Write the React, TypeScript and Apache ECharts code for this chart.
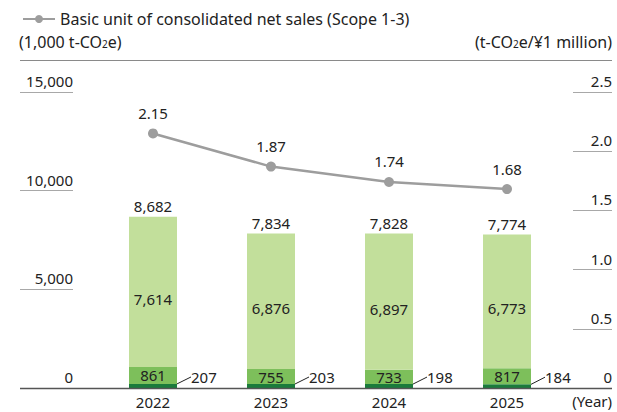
import React, { useEffect, useRef } from "react";
import * as echarts from "echarts";

const years = ["2022", "2023", "2024", "2025"];
const scope3Upstream = [7614, 6876, 6897, 6773]; // light green
const scope2 = [861, 755, 733, 817]; // medium green
const scope1 = [207, 203, 198, 184]; // dark green
const totals = [8682, 7834, 7828, 7774];
const intensity = [2.15, 1.87, 1.74, 1.68];
const leftTicks = [0, 5000, 10000, 15000];
const rightTicks = [0, 0.5, 1.0, 1.5, 2.0, 2.5];

const FONT = "Noto Sans";
const TXT = "#222222";
const fmt = (v: number) => v.toLocaleString("en-US");
const base = { fontSize: 15, color: TXT, fontFamily: FONT, fontWeight: "normal" as const };

export default function App() {
  const ref = useRef<HTMLDivElement>(null);
  useEffect(() => {
    const chart = echarts.init(ref.current!, undefined, { renderer: "svg" });
    const lineName = "Basic unit of consolidated net sales (Scope 1-3)";
    chart.setOption({
      animation: false,
      textStyle: { fontFamily: FONT, color: TXT, fontWeight: "normal" },
      legend: {
        data: [lineName],
        left: 17,
        top: 6,
        itemWidth: 32,
        itemHeight: 10,
        itemGap: 6,
        textStyle: { ...base, fontSize: 16 },
      },
      grid: { left: 94, right: 51, top: 92, bottom: 24 },
      xAxis: {
        type: "category",
        data: years,
        axisLine: { show: false },
        axisTick: { show: false },
        axisLabel: { ...base, margin: 6, lineHeight: 15 },
      },
      yAxis: [
        {
          type: "value",
          min: leftTicks[0],
          max: leftTicks[leftTicks.length - 1],
          interval: 5000,
          position: "left",
          offset: 21,
          splitLine: { show: false },
          axisLine: { show: false },
          axisTick: { show: true, length: 53, lineStyle: { color: "#a8a8a8", width: 1 } },
          axisLabel: {
            ...base,
            margin: 0,
            verticalAlign: "bottom",
            lineHeight: 22,
            formatter: (v: number) => fmt(v),
          },
        },
        {
          type: "value",
          min: rightTicks[0],
          max: rightTicks[rightTicks.length - 1],
          interval: 0.5,
          position: "right",
          offset: 7,
          splitLine: { show: false },
          axisLine: { show: false },
          axisTick: { show: true, length: 39, lineStyle: { color: "#a8a8a8", width: 1 } },
          axisLabel: {
            ...base,
            margin: 39,
            align: "right",
            verticalAlign: "bottom",
            lineHeight: 22,
            formatter: (v: number) => (v === 0 ? "0" : v.toFixed(1)),
          },
        },
      ],
      graphic: [
        {
          type: "line",
          shape: { x1: 20, y1: 60.5, x2: 612, y2: 60.5 },
          style: { stroke: "#8a8a8a", lineWidth: 1 },
        },
        {
          type: "line",
          shape: { x1: 20, y1: 388.5, x2: 612, y2: 388.5 },
          style: { stroke: "#555555", lineWidth: 1.5 },
          z: 10,
        },
        {
          type: "text",
          left: 19,
          top: 34,
          style: {
            text: "(1,000 t-CO{s|2}e)",
            rich: { s: { fontSize: 10, fontFamily: FONT, fill: TXT, padding: [4, 0, 0, 0] } },
            font: `16px "${FONT}"`,
            fill: TXT,
          },
        },
        {
          type: "text",
          right: 5,
          top: 34,
          style: {
            text: "(t-CO{s|2}e/¥1 million)",
            rich: { s: { fontSize: 10, fontFamily: FONT, fill: TXT, padding: [4, 0, 0, 0] } },
            font: `16px "${FONT}"`,
            fill: TXT,
          },
        },
        {
          type: "text",
          right: 5,
          top: 393,
          style: { text: "(Year)", font: `15px "${FONT}"`, fill: TXT },
        },
      ],
      series: [
        {
          name: "Scope 1",
          type: "bar",
          stack: "total",
          barWidth: 48,
          barGap: "-100%",
          data: scope1,
          itemStyle: { color: "#1a7b3b" },
          label: {
            ...base,
            show: true,
            position: "right",
            distance: 0,
            formatter: (p: any) => fmt(p.value),
          },
          labelLayout: { dx: 14, dy: -9 },
          labelLine: { show: true, lineStyle: { color: TXT, width: 1 } },
          z: 3,
        },
        {
          name: "Scope 2",
          type: "bar",
          stack: "total",
          data: scope2,
          itemStyle: { color: "#7dbf5b" },
          label: { ...base, show: true, position: "inside", formatter: (p: any) => fmt(p.value) },
          z: 3,
        },
        {
          name: "Scope 3",
          type: "bar",
          stack: "total",
          data: scope3Upstream,
          itemStyle: { color: "#c2df9b" },
          label: {
            ...base,
            show: true,
            position: "inside",
            offset: [0, 7],
            formatter: (p: any) => fmt(p.value),
          },
          z: 3,
        },
        {
          name: "Total",
          type: "bar",
          barWidth: 48,
          barGap: "-100%",
          data: totals,
          itemStyle: { color: "rgba(0,0,0,0)" },
          label: {
            ...base,
            show: true,
            position: "top",
            distance: 3,
            formatter: (p: any) => fmt(p.value),
          },
          z: 2,
        },
        {
          name: lineName,
          type: "line",
          yAxisIndex: 1,
          data: intensity,
          symbol: "circle",
          symbolSize: 10,
          itemStyle: { color: "#9d9d9d" },
          lineStyle: { color: "#9d9d9d", width: 2.5 },
          label: {
            ...base,
            show: true,
            position: "top",
            distance: 8,
            formatter: (p: any) => p.value.toFixed(2),
          },
          z: 5,
        },
      ],
    });
    return () => chart.dispose();
  }, []);
  return <div ref={ref} style={{ width: 617, height: 412, position: "absolute", left: 0, top: 0 }} />;
}
